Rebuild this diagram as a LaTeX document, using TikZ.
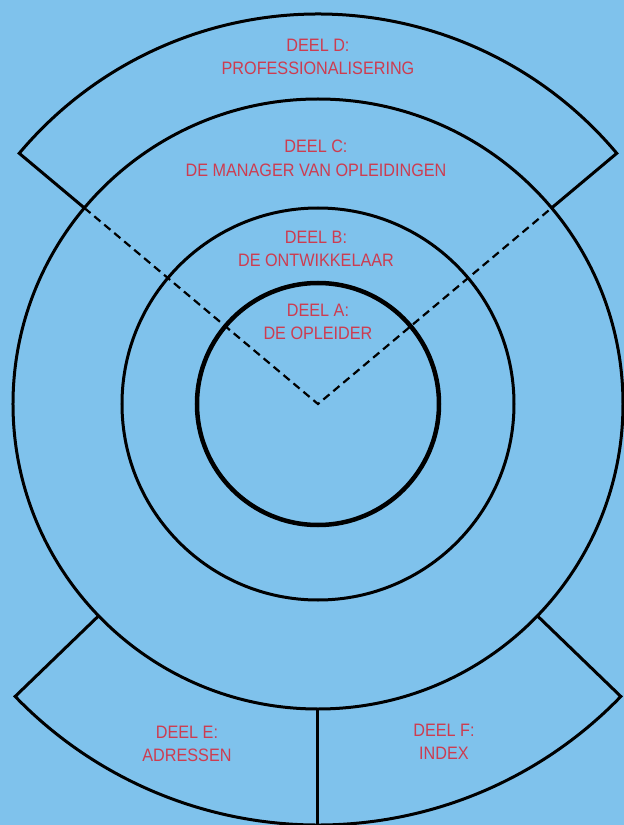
\documentclass[tikz,border=0pt]{standalone}
\usepackage{fontspec}
\setmainfont{Liberation Sans}[FakeStretch=0.9]
\definecolor{bgblue}{RGB}{127,194,236}
\definecolor{labelred}{RGB}{205,60,80}
\begin{document}
\begin{tikzpicture}[x=1pt,y=1pt,
  ring/.style={line width=3pt,black},
  innerring/.style={line width=4.5pt,black},
  guide/.style={line width=2.2pt,dash pattern=on 8pt off 5pt},
  partlabel/.style={text=labelred,align=center,inner sep=0pt,
    font=\fontsize{18}{23.5}\selectfont}]
\useasboundingbox (-318,-421) rectangle (306,404);
\fill[bgblue] (-318,-421) rectangle (306,404);
\coordinate (O) at (0,0);
% circles
\draw[innerring] (O) circle[radius=121pt];
\draw[ring] (O) circle[radius=196pt];
\draw[ring] (O) circle[radius=305pt];
% top band D
\draw[ring,line join=miter] (40:305pt) -- (40:390pt)
  arc[start angle=40,end angle=140,radius=390pt] -- (140:305pt);
% dashed guide lines
\draw[guide] (140:305pt) -- (O) -- (40:305pt);
% bottom band E/F
\draw[ring,line join=miter] (-136:305pt) -- (-136:421pt)
  arc[start angle=-136,end angle=-44,radius=421pt] -- (-44:305pt);
\draw[ring] (-90:305pt) -- (-90:421pt);
% labels
\node[partlabel] (D) at (0,347) {DEEL D:\\PROFESSIONALISERING};
\node[partlabel] (C) at (-2,245.5) {DEEL C:\\DE MANAGER VAN OPLEIDINGEN};
\node[partlabel] (B) at (-2,155) {DEEL B:\\DE ONTWIKKELAAR};
\node[partlabel] (A) at (0,82) {DEEL A:\\DE OPLEIDER};
\node[partlabel] (E) at (-131,-340) {DEEL E:\\ADRESSEN};
\node[partlabel] (F) at (126,-338) {DEEL F:\\INDEX};
\end{tikzpicture}
\end{document}
